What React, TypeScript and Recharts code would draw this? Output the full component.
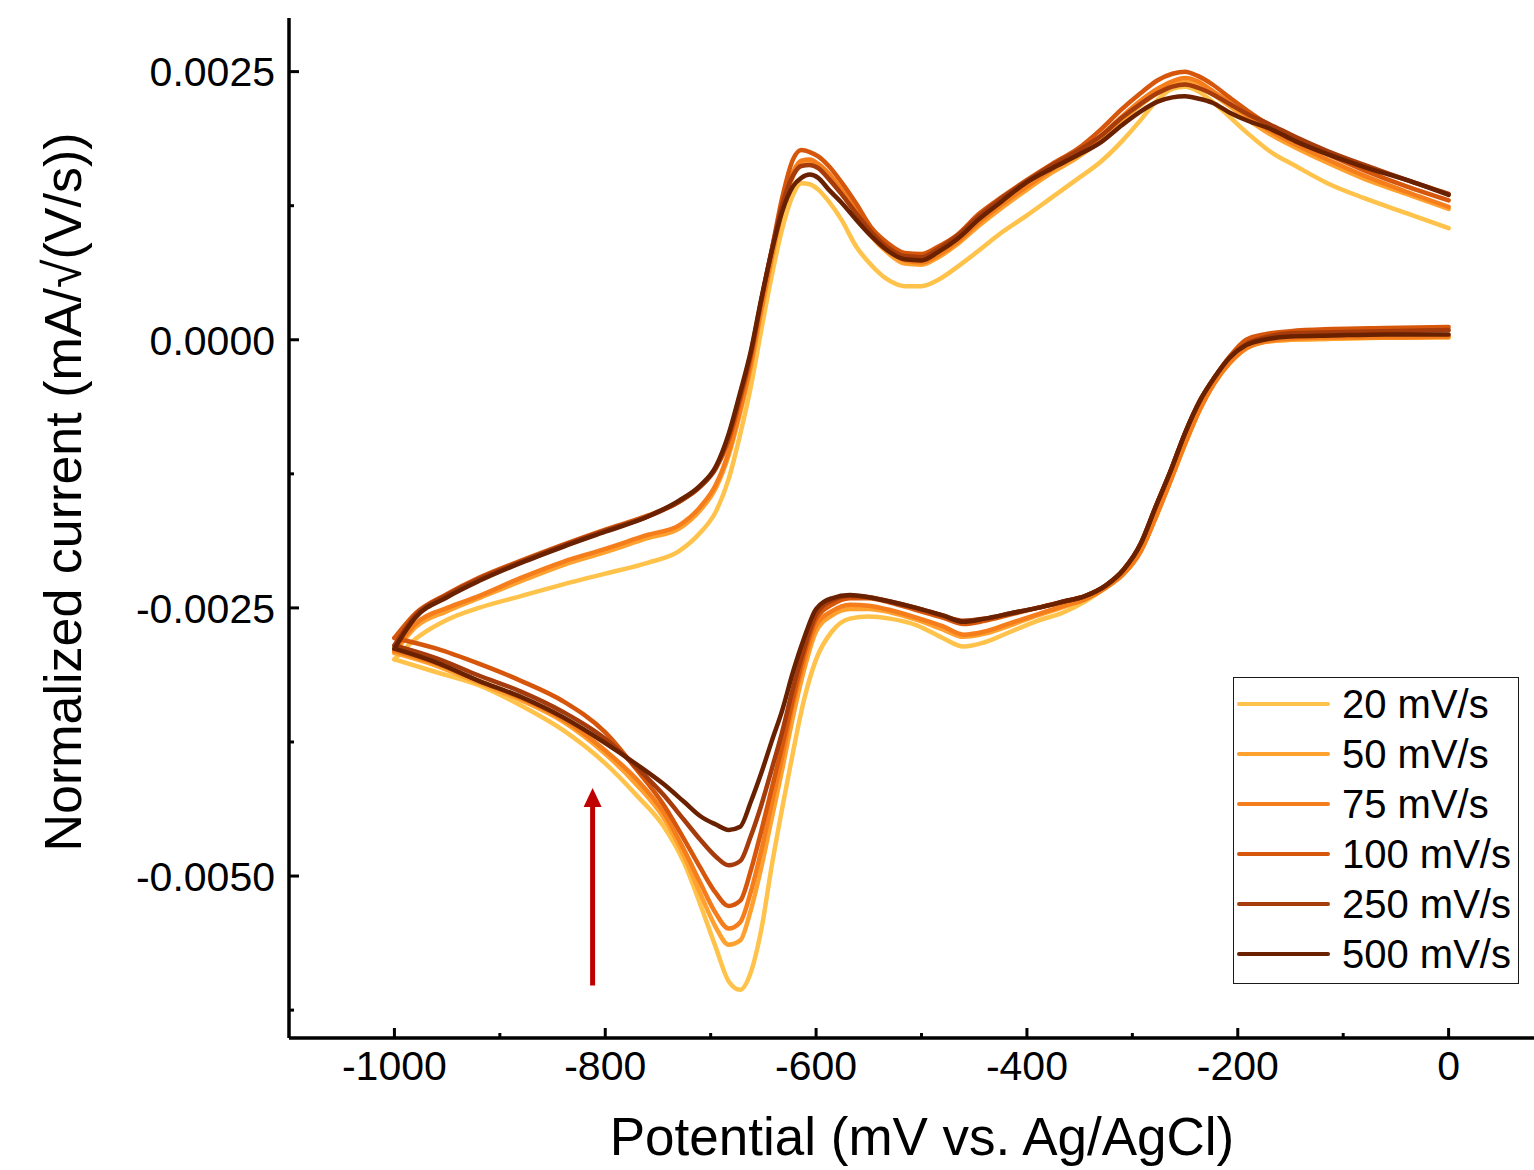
import { LineChart, Line, XAxis, YAxis, ReferenceLine, ReferenceDot } from "recharts";

const FONT = '"Liberation Sans", Arial, Helvetica, sans-serif';

// Potential (mV vs. Ag/AgCl). Both branches are listed from -1000 up to 0.
const LOWER_E = [-1000, -960, -920, -880, -840, -800, -770, -745, -725, -710, -695, -683, -672, -662, -652, -642, -632, -622, -612, -600, -585, -568, -550, -530, -505, -480, -460, -440, -415, -390, -365, -345, -325, -308, -292, -278, -264, -250, -236, -222, -208, -192, -175, -150, -110, -60, 0];
const UPPER_E = [-1000, -980, -950, -920, -880, -840, -800, -760, -730, -710, -695, -683, -672, -662, -652, -642, -632, -622, -614, -606, -598, -588, -576, -562, -548, -532, -516, -500, -484, -466, -446, -424, -400, -376, -352, -330, -310, -292, -276, -262, -250, -238, -224, -208, -190, -170, -145, -115, -80, -40, 0];

// Normalized current, in 1e-4 mA/√(V/s)
// cathodic sweep (lower branch)
const LOWER_20 = [-29.8, -31.0, -32.2, -34.1, -36.4, -39.5, -42.5, -45.3, -48.8, -52.6, -56.7, -59.8, -60.6, -59.0, -55.0, -49.0, -43.6, -38.5, -33.8, -29.8, -27.2, -26.0, -25.8, -26.0, -26.6, -27.8, -28.6, -28.2, -27.2, -26.2, -25.4, -24.4, -23.1, -21.8, -19.7, -16.6, -13.2, -9.7, -6.5, -4.0, -2.2, -0.8, -0.2, 0.0, 0.1, 0.2, 0.3];
const LOWER_50 = [-29.2, -30.4, -32.0, -33.6, -35.6, -38.6, -41.5, -44.5, -48.2, -51.6, -54.8, -56.4, -56.0, -53.2, -49.2, -44.6, -40.0, -35.2, -31.0, -27.2, -25.7, -25.1, -25.1, -25.4, -26.1, -27.0, -27.7, -27.4, -26.6, -25.7, -24.9, -24.2, -23.1, -21.8, -19.7, -16.6, -13.2, -9.7, -6.5, -4.0, -2.2, -0.8, -0.2, 0.0, 0.1, 0.2, 0.2];
const LOWER_75 = [-29.0, -30.2, -31.8, -33.4, -35.4, -38.3, -41.0, -44.0, -47.6, -50.6, -53.5, -54.9, -54.3, -51.5, -47.6, -43.2, -38.8, -34.0, -30.2, -26.6, -25.3, -24.7, -24.8, -25.2, -25.9, -26.7, -27.5, -27.2, -26.4, -25.6, -24.8, -24.2, -23.1, -21.8, -19.7, -16.6, -13.2, -9.7, -6.5, -4.0, -2.2, -0.8, -0.2, 0.1, 0.2, 0.2, 0.3];
const LOWER_100 = [-27.8, -28.8, -30.2, -31.8, -33.7, -36.6, -40.1, -43.3, -46.6, -49.2, -51.6, -52.8, -52.3, -49.5, -45.8, -41.8, -37.8, -33.5, -29.5, -26.0, -24.7, -24.1, -24.1, -24.5, -25.2, -25.9, -26.5, -26.2, -25.6, -25.0, -24.4, -23.9, -22.9, -21.4, -19.0, -15.6, -12.3, -8.7, -5.7, -3.5, -1.6, 0.0, 0.5, 0.8, 1.0, 1.1, 1.2];
const LOWER_250 = [-28.5, -29.7, -31.3, -32.8, -34.7, -37.2, -39.9, -42.4, -44.8, -46.6, -48.2, -49.0, -48.6, -46.3, -43.4, -40.0, -36.5, -32.5, -29.0, -25.6, -24.3, -23.9, -24.0, -24.4, -25.0, -25.7, -26.2, -26.0, -25.5, -25.0, -24.4, -23.9, -22.9, -21.4, -19.0, -15.6, -12.3, -8.7, -5.7, -3.5, -1.7, -0.4, 0.2, 0.6, 0.7, 0.8, 0.9];
const LOWER_500 = [-28.8, -30.1, -31.8, -33.3, -35.2, -37.6, -39.6, -41.4, -43.1, -44.4, -45.2, -45.7, -45.4, -43.1, -40.4, -37.4, -34.5, -31.0, -28.0, -25.1, -24.1, -23.8, -24.0, -24.4, -25.0, -25.7, -26.3, -26.0, -25.5, -25.0, -24.4, -23.9, -22.9, -21.4, -19.0, -15.6, -12.3, -8.7, -5.7, -3.5, -1.7, -0.5, 0.0, 0.3, 0.4, 0.5, 0.5];

// anodic sweep (upper branch)
const UPPER_20 = [-29.8, -27.9, -26.1, -25.0, -23.9, -22.8, -21.8, -20.8, -19.7, -18.0, -16.0, -13.0, -8.8, -4.4, 0.9, 6.0, 10.4, 13.5, 14.6, 14.5, 14.0, 12.9, 11.2, 8.7, 7.0, 5.6, 5.0, 5.0, 5.6, 6.8, 8.3, 10.0, 11.6, 13.3, 15.0, 16.6, 18.5, 20.5, 22.4, 23.4, 23.6, 23.2, 22.2, 20.8, 19.2, 17.6, 16.2, 14.6, 13.2, 11.8, 10.4];
const UPPER_50 = [-29.2, -26.8, -25.3, -24.1, -22.5, -21.0, -19.8, -18.5, -17.6, -15.9, -13.8, -10.8, -6.8, -2.6, 2.6, 7.5, 12.0, 15.2, 16.4, 16.5, 16.1, 15.2, 13.7, 11.7, 9.7, 8.1, 7.1, 7.0, 7.7, 8.9, 10.6, 12.3, 14.0, 15.6, 17.0, 18.6, 20.4, 21.9, 23.0, 23.7, 24.0, 23.7, 22.9, 21.8, 20.5, 19.2, 17.9, 16.5, 15.0, 13.6, 12.2];
const UPPER_75 = [-29.0, -26.5, -25.0, -23.9, -22.2, -20.7, -19.5, -18.2, -17.3, -15.6, -13.5, -10.5, -6.5, -2.3, 2.9, 7.8, 12.4, 15.6, 16.7, 16.8, 16.4, 15.5, 14.0, 12.0, 10.0, 8.4, 7.4, 7.2, 7.9, 9.1, 10.9, 12.6, 14.3, 15.9, 17.3, 19.0, 20.8, 22.3, 23.4, 24.1, 24.4, 24.1, 23.2, 22.1, 20.8, 19.5, 18.2, 16.8, 15.3, 13.8, 12.4];
const UPPER_100 = [-27.8, -25.5, -23.7, -22.2, -20.6, -19.1, -17.7, -16.4, -15.1, -13.7, -12.0, -9.4, -5.6, -1.6, 3.6, 8.4, 13.3, 16.8, 17.7, 17.5, 17.1, 16.2, 14.7, 12.7, 10.5, 9.0, 8.1, 8.0, 8.7, 9.8, 11.7, 13.3, 14.9, 16.4, 17.8, 19.6, 21.5, 23.0, 24.2, 24.8, 25.0, 24.6, 23.8, 22.6, 21.3, 20.0, 18.7, 17.3, 15.8, 14.3, 13.0];
const UPPER_250 = [-28.5, -25.7, -23.8, -22.3, -20.7, -19.2, -17.8, -16.5, -15.1, -13.7, -11.9, -9.0, -5.2, -1.3, 3.7, 8.4, 12.6, 15.3, 16.2, 16.3, 16.0, 15.0, 13.6, 11.8, 10.1, 8.6, 7.8, 7.7, 8.5, 9.7, 11.5, 13.2, 14.8, 16.3, 17.6, 19.0, 20.7, 22.0, 23.0, 23.6, 23.8, 23.5, 22.9, 22.0, 21.0, 20.1, 18.9, 17.6, 16.3, 14.9, 13.6];
const UPPER_500 = [-28.8, -25.9, -24.0, -22.5, -20.8, -19.3, -17.9, -16.5, -15.0, -13.6, -11.8, -8.8, -4.9, -1.1, 3.8, 8.3, 12.0, 14.3, 15.1, 15.4, 15.1, 14.0, 12.8, 11.2, 9.7, 8.3, 7.5, 7.4, 8.2, 9.4, 11.2, 12.9, 14.7, 16.0, 17.2, 18.4, 20.0, 21.3, 22.2, 22.6, 22.7, 22.5, 22.1, 21.2, 20.4, 19.7, 18.5, 17.3, 16.1, 14.9, 13.5];

const SERIES = [
  { name: "20 mV/s",  color: "#FFC24B", lower: LOWER_20,  upper: UPPER_20 },
  { name: "50 mV/s",  color: "#FFA12F", lower: LOWER_50,  upper: UPPER_50 },
  { name: "75 mV/s",  color: "#F57D1C", lower: LOWER_75,  upper: UPPER_75 },
  { name: "100 mV/s", color: "#D6570B", lower: LOWER_100, upper: UPPER_100 },
  { name: "250 mV/s", color: "#A63B0B", lower: LOWER_250, upper: UPPER_250 },
  { name: "500 mV/s", color: "#6A2100", lower: LOWER_500, upper: UPPER_500 },
];

const X_TICKS = [-1000, -900, -800, -700, -600, -500, -400, -300, -200, -100, 0];
const X_LABELED = [-1000, -800, -600, -400, -200, 0];
const Y_TICKS = [-0.00625, -0.005, -0.00375, -0.0025, -0.00125, 0, 0.00125, 0.0025];
const Y_LABELED = [-0.005, -0.0025, 0, 0.0025];

// red arrow (potential, then currents in 1e-4 units)
const ARROW = { E: -812, from: -60.2, to: -43.2, tip: -41.8 };

const X_DOMAIN: [number, number] = [-1100, 81];
const Y_DOMAIN: [number, number] = [-0.00651, 0.003];

function branch(E: number[], I: number[]) {
  return E.map((e, i) => ({ E: e, I: I[i] / 1e4 }));
}

function XTick({ x, y, payload }: any) {
  const major = X_LABELED.includes(payload.value);
  return (
    <g>
      <line x1={x} x2={x} y1={y} y2={y - (major ? 10 : 5)} stroke="#000" strokeWidth={3} />
      {major && (
        <text x={x} y={y + 42} textAnchor="middle" fontSize={41} fontFamily={FONT} fill="#000">
          {payload.value}
        </text>
      )}
    </g>
  );
}

function YTick({ x, y, payload }: any) {
  const major = Y_LABELED.includes(payload.value);
  return (
    <g>
      <line x1={x} x2={x + (major ? 10 : 5)} y1={y} y2={y} stroke="#000" strokeWidth={3} />
      {major && (
        <text x={x - 14} y={y} dy="0.36em" textAnchor="end" fontSize={41} fontFamily={FONT} fill="#000">
          {payload.value.toFixed(4)}
        </text>
      )}
    </g>
  );
}

export default function App() {
  return (
    <div style={{ position: "absolute", left: 0, top: 0, width: 1534, height: 1170, background: "#fff" }}>
      <LineChart width={1534} height={1170} margin={{ top: 18, right: 0, bottom: 0, left: 0 }}>
        <XAxis
          dataKey="E" type="number" domain={X_DOMAIN} allowDataOverflow
          ticks={X_TICKS} interval={0} height={132}
          tickSize={0} tickMargin={0} tickLine={false}
          axisLine={{ stroke: "#000", strokeWidth: 3.5 }}
          tick={(p: any) => <XTick {...p} />}
          label={() => (
            <text x={922} y={1155} textAnchor="middle" fontSize={53} fontFamily={FONT} fill="#000">
              Potential (mV vs. Ag/AgCl)
            </text>
          )}
        />
        {/* top frame line */}
        <XAxis
          xAxisId="top" orientation="top" type="number" domain={X_DOMAIN} allowDataOverflow
          height={0} tick={false} tickLine={false}
          axisLine={{ stroke: "#000", strokeWidth: 3.5 }}
        />
        <YAxis
          type="number" domain={Y_DOMAIN} allowDataOverflow
          ticks={Y_TICKS} interval={0} width={289}
          tickSize={0} tickMargin={0} tickLine={false}
          axisLine={{ stroke: "#000", strokeWidth: 3.5 }}
          tick={(p: any) => <YTick {...p} />}
          label={() => (
            <text x={81} y={492} transform="rotate(-90 81 492)" textAnchor="middle" fontSize={52} fontFamily={FONT} fill="#000">
              Normalized current (mA/√(V/s))
            </text>
          )}
        />

        {SERIES.flatMap((s) => [
          <Line
            key={s.name + "-lower"} data={branch(LOWER_E, s.lower)} dataKey="I"
            type="monotone" stroke={s.color} strokeWidth={4.5} dot={false}
            strokeLinecap="round" strokeLinejoin="round" isAnimationActive={false}
          />,
          <Line
            key={s.name + "-upper"} data={branch(UPPER_E, s.upper)} dataKey="I"
            type="monotone" stroke={s.color} strokeWidth={4.5} dot={false}
            strokeLinecap="round" strokeLinejoin="round" isAnimationActive={false}
          />,
        ])}

        <ReferenceLine
          segment={[{ x: ARROW.E, y: ARROW.from / 1e4 }, { x: ARROW.E, y: ARROW.to / 1e4 }]}
          stroke="#C00000" strokeWidth={5}
        />
        <ReferenceDot
          x={ARROW.E} y={ARROW.tip / 1e4}
          shape={(p: any) => (
            <polygon points={`${p.cx},${p.cy} ${p.cx - 9},${p.cy + 19} ${p.cx + 9},${p.cy + 19}`} fill="#C00000" />
          )}
        />
      </LineChart>

      {/* legend box */}
      <div style={{
        position: "absolute", left: 1233, top: 677, width: 286, height: 307,
        border: "1.5px solid #1a1a1a", boxSizing: "border-box", background: "#fff", paddingTop: 1,
      }}>
        {SERIES.map((s) => (
          <div key={s.name} style={{ display: "flex", alignItems: "center", height: 50 }}>
            <div style={{ marginLeft: 3, width: 93, height: 4, borderRadius: 2, background: s.color }} />
            <span style={{ marginLeft: 12, fontSize: 40, fontFamily: FONT, color: "#000", lineHeight: 1 }}>
              {s.name}
            </span>
          </div>
        ))}
      </div>
    </div>
  );
}
